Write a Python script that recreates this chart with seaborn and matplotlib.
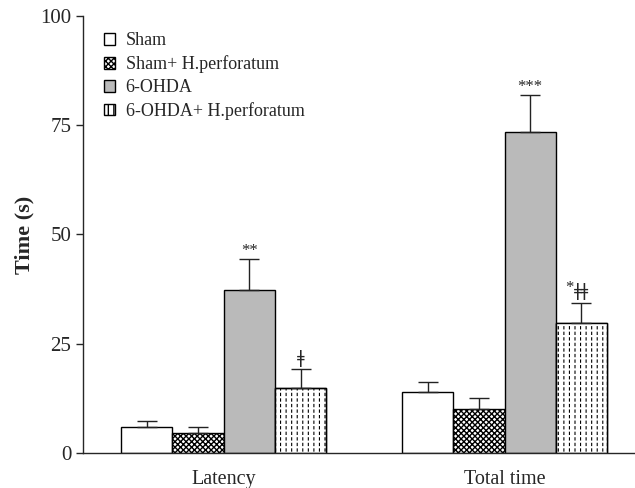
import numpy as np
import pandas as pd
import matplotlib
matplotlib.use("Agg")
import matplotlib.pyplot as plt
from matplotlib.patches import Rectangle
import seaborn as sns

# data
groups = ["Sham", "Sham+ H.perforatum", "6-OHDA", "6-OHDA+ H.perforatum"]
measures = ["Latency", "Total time"]
latency = [5.9, 4.6, 37.3, 14.9]
latency_sem = [1.4, 1.3, 7.1, 4.2]
total_time = [14.0, 10.1, 73.5, 29.7]
total_time_sem = [2.2, 2.5, 8.5, 4.6]
latency_marks = ["", "", "**", "ǂ"]
total_marks = ["", "", "***", "*ǂǂ"]

fill_colors = ["white", "white", "#bababa", "white"]
hatches = [None, "xxxxxx", None, "|||"]

df = pd.DataFrame({
    "measure": np.repeat(measures, len(groups)),
    "group": groups * 2,
    "time": latency + total_time,
    "err": latency_sem + total_time_sem,
    "mark": latency_marks + total_marks,
})

sns.set_style("ticks")
plt.rcParams["font.family"] = ["Liberation Serif", "DejaVu Serif"]
plt.rcParams["hatch.linewidth"] = 1.0

fig = plt.figure(figsize=(6.35, 4.88), dpi=100)
ax = fig.add_axes([0.131, 0.072, 0.867, 0.895])

sns.barplot(data=df, x="measure", y="time", hue="group", order=measures,
            hue_order=groups, palette=fill_colors, edgecolor="black",
            linewidth=1.0, width=0.73, dodge=True, errorbar=None, ax=ax,
            saturation=1)


def style_patch(p, i):
    p.set_facecolor(fill_colors[i])
    p.set_edgecolor("black")
    if hatches[i]:
        p.set_hatch(hatches[i])
        if i == 3 and hasattr(p, "set_hatch_linewidth"):
            p.set_hatch_linewidth(0.8)


def dash_overlay(p):
    # break the vertical hatch lines into short dashes
    x, y = p.get_xy()
    w, h = p.get_width(), p.get_height()
    cut = Rectangle((x, y), w, h, facecolor="none", edgecolor="white",
                    hatch="---", linewidth=0, zorder=p.get_zorder() + 0.1)
    if hasattr(cut, "set_hatch_linewidth"):
        cut.set_hatch_linewidth(1.6)
    rim = Rectangle((x, y), w, h, facecolor="none", edgecolor="black",
                    linewidth=1.0, zorder=p.get_zorder() + 0.2)
    ax.add_patch(cut)
    ax.add_patch(rim)


# style bars per group, add one-sided error bars and marks
bars = list(ax.patches[:len(groups) * len(measures)])
for i, g in enumerate(groups):
    for j, m in enumerate(measures):
        p = bars[i * len(measures) + j]
        style_patch(p, i)
        if i == 3:
            dash_overlay(p)
        row = df[(df.group == g) & (df.measure == m)].iloc[0]
        xc = p.get_x() + p.get_width() / 2
        ax.errorbar(xc, row["time"], yerr=[[0], [row["err"]]], fmt="none",
                    ecolor="#222222", elinewidth=1.0, capsize=7, capthick=1.0,
                    zorder=5)
        mark = row["mark"]
        if not mark:
            continue
        top = row["time"] + row["err"]
        stars = mark.rstrip("ǂ")
        daggers = mark[len(stars):]
        if daggers:
            ax.annotate(daggers, (xc, top), xytext=(0, 2),
                        textcoords="offset points", ha="center", va="bottom",
                        fontsize=12, family="DejaVu Sans")
            if stars:
                ax.annotate(stars, (xc, top), xytext=(-5.5, 5),
                            textcoords="offset points", ha="right",
                            va="bottom", fontsize=12)
        else:
            ax.annotate(stars, (xc, top), xytext=(0, 0),
                        textcoords="offset points", ha="center",
                        va="bottom", fontsize=12)

# legend with small square handles
handles = []
for i, g in enumerate(groups):
    h = Rectangle((0, 0), 1, 1, linewidth=1.0)
    style_patch(h, i)
    handles.append(h)
ax.legend(handles, groups, loc="upper left", bbox_to_anchor=(0.008, 1.0),
          frameon=False, fontsize=13, handlelength=0.6, handleheight=0.6,
          handletextpad=0.6, labelspacing=0.33)

ax.set_ylim(0, 100)
ax.set_yticks([0, 25, 50, 75, 100])
ax.set_xlim(-0.5, 1.46)
ax.set_xlabel("")
ax.set_ylabel("Time (s)", fontsize=16, fontweight="bold", labelpad=4)
ax.tick_params(axis="y", labelsize=15, length=5, width=1, direction="out")
ax.tick_params(axis="x", labelsize=14.5, length=0, pad=12)
for s in ["left", "bottom"]:
    ax.spines[s].set_linewidth(1.0)
sns.despine(ax=ax)

fig.savefig("out.png", dpi=100)
